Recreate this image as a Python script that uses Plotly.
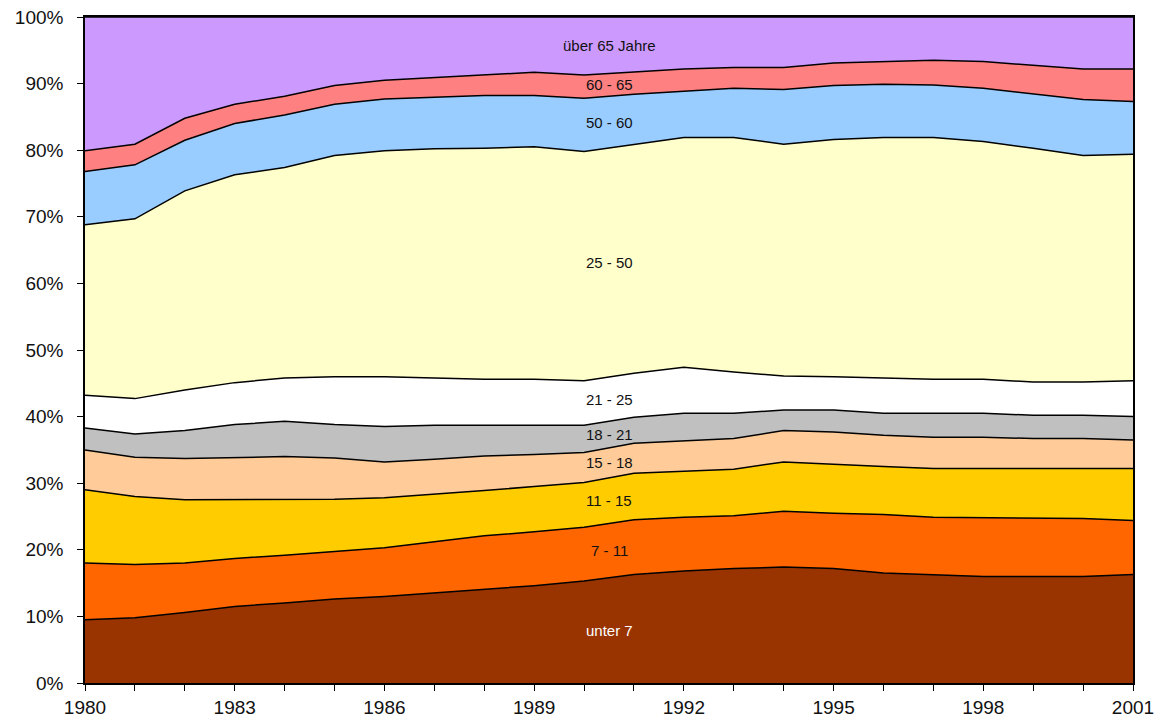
import plotly.graph_objects as go
import numpy as np

years = list(range(1980, 2002))

series_names = ["unter 7", "7 - 11", "11 - 15", "15 - 18", "18 - 21",
                "21 - 25", "25 - 50", "50 - 60", "60 - 65", "über 65 Jahre"]

unter_7 = [9.5, 9.8, 10.6, 11.5, 12.0, 12.6, 13.0, 13.5, 14.1, 14.6, 15.3,
           16.3, 16.8, 17.2, 17.4, 17.2, 16.5, 16.3, 16.0, 16.0, 16.0, 16.3]
age_7_11 = [8.5, 8.0, 7.4, 7.2, 7.2, 7.2, 7.3, 7.7, 8.0, 8.1, 8.1,
            8.2, 8.1, 7.9, 8.4, 8.3, 8.8, 8.6, 8.8, 8.7, 8.7, 8.1]
age_11_15 = [11.0, 10.2, 9.5, 8.8, 8.4, 7.8, 7.5, 7.1, 6.8, 6.8, 6.7,
             7.0, 6.9, 7.0, 7.4, 7.3, 7.2, 7.3, 7.4, 7.6, 7.6, 7.8]
age_15_18 = [6.0, 5.9, 6.2, 6.4, 6.4, 6.2, 5.4, 5.3, 5.2, 4.8, 4.5,
             4.5, 4.5, 4.6, 4.7, 4.9, 4.7, 4.7, 4.7, 4.4, 4.4, 4.3]
age_18_21 = [3.3, 3.5, 4.2, 4.9, 5.3, 5.0, 5.3, 5.1, 4.6, 4.4, 4.1,
             3.9, 4.2, 3.8, 3.1, 3.3, 3.3, 3.6, 3.6, 3.5, 3.5, 3.5]
age_21_25 = [4.9, 5.3, 6.1, 6.3, 6.5, 7.2, 7.5, 7.1, 6.9, 6.9, 6.7,
             6.6, 6.9, 6.2, 5.1, 5.0, 5.3, 5.1, 5.1, 5.0, 5.0, 5.4]
age_25_50 = [25.6, 27.0, 29.9, 31.2, 31.6, 33.2, 33.9, 34.4, 34.7, 34.9, 34.4,
             34.3, 34.5, 35.2, 34.8, 35.6, 36.1, 36.3, 35.7, 35.1, 34.0, 34.0]
age_50_60 = [8.0, 8.1, 7.6, 7.7, 7.9, 7.7, 7.8, 7.8, 7.9, 7.7, 8.0,
             7.6, 7.0, 7.4, 8.2, 8.1, 8.0, 7.9, 8.0, 8.1, 8.4, 7.9]
age_60_65 = [3.1, 3.1, 3.3, 2.9, 2.8, 2.8, 2.8, 2.9, 3.1, 3.5, 3.5,
             3.4, 3.3, 3.1, 3.3, 3.4, 3.4, 3.7, 4.0, 4.4, 4.6, 4.9]
ueber_65 = [20.1, 19.1, 15.2, 13.1, 11.9, 10.3, 9.5, 9.1, 8.7, 8.3, 8.7,
            8.2, 7.8, 7.6, 7.6, 6.9, 6.7, 6.5, 6.7, 7.2, 7.8, 7.8]

x_tick_labels = ["1980", "1983", "1986", "1989", "1992", "1995", "1998", "2001"]

all_series = [unter_7, age_7_11, age_11_15, age_15_18, age_18_21,
              age_21_25, age_25_50, age_50_60, age_60_65, ueber_65]

colors = ["#993300", "#FF6600", "#FFCC00", "#FFCC99", "#C0C0C0",
          "#FFFFFF", "#FFFFCC", "#99CCFF", "#FF8080", "#CC99FF"]
label_colors = ["white"] + ["#111111"] * 9

fig = go.Figure()
for name, vals, col in zip(series_names, all_series, colors):
    fig.add_trace(go.Scatter(
        x=years, y=vals, name=name, mode="lines",
        stackgroup="one", groupnorm="percent" if name == "unter 7" else None,
        line=dict(color="black", width=1.5), fillcolor=col,
        showlegend=False,
    ))

# labels in the middle of each band at the chart's horizontal centre
label_x = (years[0] + years[-1]) / 2
totals = np.sum(np.array(all_series), axis=0)
cum = np.cumsum(np.array(all_series) / totals * 100, axis=0)
prev = np.zeros(len(years))
for i, name in enumerate(series_names):
    lo = np.interp(label_x, years, prev)
    hi = np.interp(label_x, years, cum[i])
    fig.add_annotation(x=label_x, y=(lo + hi) / 2, text=name, showarrow=False,
                       font=dict(family="Liberation Sans", size=15, color=label_colors[i]))
    prev = cum[i]

axis_font = dict(family="Liberation Sans", size=19, color="#111111")

fig.update_layout(
    width=1168, height=718,
    margin=dict(l=85, r=35, t=17, b=35),
    plot_bgcolor="white", paper_bgcolor="white",
    xaxis=dict(
        range=[years[0], years[-1]], automargin=False,
        tickvals=[int(t) for t in x_tick_labels], ticktext=x_tick_labels,
        ticks="outside", ticklen=6, tickwidth=1, tickcolor="black",
        minor=dict(dtick=1, tick0=1980, ticks="outside", ticklen=6, tickcolor="black"),
        showgrid=False, zeroline=False,
        showline=True, linecolor="black", linewidth=1.5, mirror=True,
        tickfont=axis_font, ticklabeloverflow="allow",
    ),
    yaxis=dict(
        range=[0, 100], dtick=10, ticksuffix="%", automargin=False,
        ticks="outside", ticklen=6, tickwidth=1, tickcolor="black",
        showgrid=False, zeroline=False,
        showline=True, linecolor="black", linewidth=1.5, mirror=True,
        tickfont=axis_font, ticklabelstandoff=10, ticklabeloverflow="allow",
    ),
)

# remove the browser's default 8px body margin so the figure fills the window
fig.write_html("out.html",
               config={"displayModeBar": False},
               post_script="document.body.style.margin='0px';document.body.style.overflow='hidden';")
